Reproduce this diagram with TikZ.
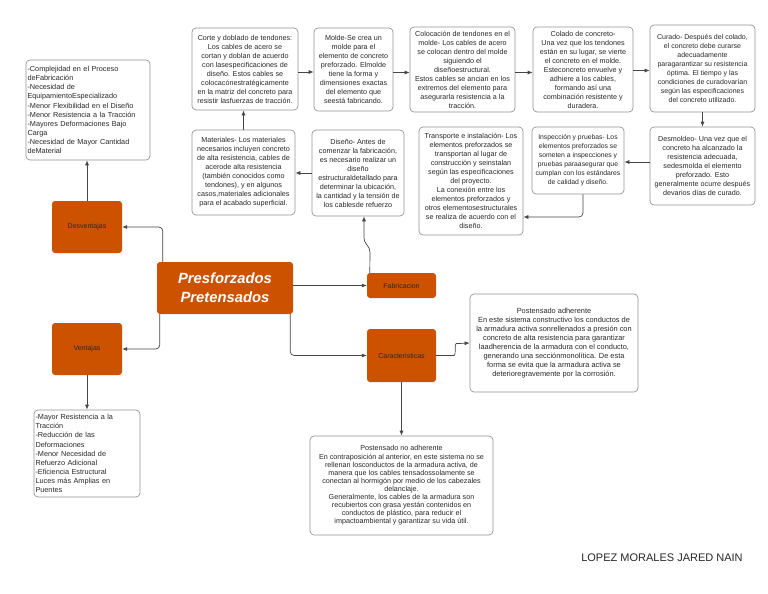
\documentclass[tikz,border=0pt]{standalone}
\usepackage{fontspec}
\setmainfont{Liberation Sans}
\usetikzlibrary{arrows.meta}
\definecolor{orng}{RGB}{204,82,0}
\definecolor{txt}{RGB}{40,40,40}
\definecolor{bord}{RGB}{150,150,150}
\definecolor{lin}{RGB}{70,70,70}
\begin{document}
\begin{tikzpicture}[x=1pt,y=-1pt,
 box/.style={draw=bord, line width=0.7pt, rounded corners=4pt, fill=white, align=center, text=txt, inner sep=0pt, font=\fontsize{7.2}{9}\selectfont},
 obox/.style={fill=orng, rounded corners=3pt, text=txt, font=\fontsize{7}{8}\selectfont, inner sep=0pt},
 conn/.style={draw=lin, line width=0.7pt, rounded corners=4pt, -{Latex[length=5pt,width=4pt]}},
]
\fill[white] (0,0) rectangle (768,594);
\useasboundingbox (0,0) rectangle (768,594);

% orange nodes
\node[obox, minimum width=136pt, minimum height=52pt, text=white, align=center, font=\fontsize{14.8}{19}\selectfont\bfseries\itshape] (central) at (225,288) {Presforzados\\Pretensados};
\node[obox, minimum width=70pt, minimum height=52pt] (desv) at (87,227) {Desventajas};
\node[obox, minimum width=70pt, minimum height=52pt] (vent) at (87,349) {Ventajas};
\node[obox, minimum width=69pt, minimum height=25pt] (fab) at (401.5,285.5) {Fabricacion};
\node[obox, minimum width=69pt, minimum height=53pt] (car) at (401.5,355.5) {Caracteristicas};

% lists
\node[box, align=left, text width=121pt, minimum height=100pt, inner sep=1.5pt, font=\fontsize{7.3}{9.1}\selectfont] (desvL) at (88,110) {-Complejidad en el Proceso\\deFabricación\\-Necesidad de\\EquipamientoEspecializado\\-Menor Flexibilidad en el Diseño\\-Menor Resistencia a la Tracción\\-Mayores Deformaciones Bajo\\Carga\\-Necesidad de Mayor Cantidad\\deMaterial};
\node[box, align=left, text width=103pt, minimum height=87pt, inner sep=1.5pt, font=\fontsize{7.3}{9.1}\selectfont] (ventL) at (87,453.5) {-Mayor Resistencia a la\\Tracción\\-Reducción de las\\Deformaciones\\-Menor Necesidad de\\Refuerzo Adicional\\-Eficiencia Estructural\\Luces más Amplias en\\Puentes};

% process boxes
\node[box, minimum width=106pt, minimum height=82pt] (corte) at (245,69) {Corte y doblado de tendones:\\Los cables de acero se\\cortan y doblan de acuerdo\\con lasespecificaciones de\\diseño. Estos cables se\\colocacónestratégicamente\\en la matriz del concreto para\\resistir lasfuerzas de tracción.};
\node[box, minimum width=79pt, minimum height=83pt] (molde) at (353.5,69.5) {Molde-Se crea un\\molde para el\\elemento de concreto\\preforzado. Elmolde\\tiene la forma y\\dimensiones exactas\\del elemento que\\seestá fabricando.};
\node[box, minimum width=105pt, minimum height=85pt] (coloc) at (462.5,69.5) {Colocación de tendones en el\\molde- Los cables de acero\\se colocan dentro del molde\\siguiendo el\\diseñoestructural.\\Estos cables se ancian en los\\extremos del elemento para\\asegurarla resistencia a la\\tracción.};
\node[box, minimum width=100pt, minimum height=85pt] (colado) at (583,69.5) {Colado de concreto-\\Una vez que los tendones\\están en su lugar, se vierte\\el concreto en el molde.\\Esteconcreto envuelve y\\adhiere a los cables,\\formando así una\\combinación resistente y\\duradera.};
\node[box, minimum width=105pt, minimum height=87pt, font=\fontsize{7}{9}\selectfont] (curado) at (702.5,68.5) {Curado- Después del colado,\\el concreto debe curarse\\adecuadamente\\paragarantizar su resistencia\\óptima. El tiempo y las\\condiciones de curadovarían\\según las especificaciones\\del concreto utilizado.};
\node[box, minimum width=105pt, minimum height=78pt] (desmol) at (702.5,166) {Desmoldeo- Una vez que el\\concreto ha alcanzado la\\resistencia adecuada,\\sedesmolda el elemento\\preforzado. Esto\\generalmente ocurre después\\devarios días de curado.};
\node[box, minimum width=92pt, minimum height=67pt, font=\fontsize{6.8}{9}\selectfont] (insp) at (578,160.5) {Inspección y pruebas- Los\\elementos preforzados se\\someten a inspecciones y\\pruebas paraasegurar que\\cumplan con los estándares\\de calidad y diseño.};
\node[box, minimum width=104pt, minimum height=108pt] (transp) at (471,181) {Transporte e instalación- Los\\elementos preforzados se\\transportan al lugar de\\construcción y seinstalan\\según las especificaciones\\del proyecto.\\La conexión entre los\\elementos preforzados y\\otros elementosestructurales\\se realiza de acuerdo con el\\diseño.};
\node[box, minimum width=103pt, minimum height=85pt] (mater) at (243.5,172.5) {Materiales- Los materiales\\necesarios incluyen concreto\\de alta resistencia, cables de\\acerode alta resistencia\\(también conocidos como\\tendones), y en algunos\\casos,materiales adicionales\\para el acabado superficial.};
\node[box, minimum width=92pt, minimum height=86pt] (diseno) at (358,173) {Diseño- Antes de\\comenzar la fabricación,\\es necesario realizar un\\diseño\\estructuraldetallado para\\determinar la ubicación,\\la cantidad y la tensión de\\los cablesde refuerzo};

% characteristics boxes
\node[box, minimum width=168pt, minimum height=98pt, font=\fontsize{7.4}{8.9}\selectfont] (adh) at (554,343) {Postensado adherente\\En este sistema constructivo los conductos de\\la armadura activa sonrellenados a presión con\\concreto de alta resistencia para garantizar\\laadherencia de la armadura con el conducto,\\generando una secciónmonolítica. De esta\\forma se evita que la armadura activa se\\deterioregravemente por la corrosión.};
\node[box, minimum width=183pt, minimum height=99pt, font=\fontsize{7.2}{8.1}\selectfont] (noadh) at (401.5,485.5) {Postensado no adherente\\En contraposición al anterior, en este sistema no se\\rellenan losconductos de la armadura activa, de\\manera que los cables tensadossolamente se\\conectan al hormigón por medio de los cabezales\\delanclaje.\\Generalmente, los cables de la armadura son\\recubiertos con grasa yestán contenidos en\\conductos de plástico, para reducir el\\impactoambiental y garantizar su vida útil.};

% author
\node[text=txt, font=\fontsize{11}{13}\selectfont, inner sep=0pt] (author) at (662,558) {LOPEZ MORALES JARED NAIN};

% connectors
\draw[conn] (desv.north) -- (desv.north |- desvL.south);
\draw[conn] (vent.south) -- (vent.south |- ventL.north);
\draw[conn] ([xshift=6pt]central.north west) |- (desv.east);
\draw[conn] ([xshift=3pt]central.south west) |- (vent.east);
\draw[conn] (central.east |- fab.west) -- (fab.west);
\draw[conn] ([xshift=-3pt]central.south east) |- (car.west);
\coordinate (j1) at (370,248);
\coordinate (j2) at (364,242);
\draw[conn] ([xshift=3pt]fab.north west) -- (j1) -- (j2) -- (j2 |- diseno.south);
\draw[conn] (diseno.west) -- (diseno.west -| mater.east);
\draw[conn] (mater.north) -- (mater.north |- corte.south);
\draw[conn] ([yshift=-3pt]corte.east) -- ([yshift=-3pt]corte.east -| molde.west);
\draw[conn] ([yshift=-3pt]molde.east) -- ([yshift=-3pt]molde.east -| coloc.west);
\draw[conn] ([yshift=-3pt]coloc.east) -- ([yshift=-3pt]coloc.east -| colado.west);
\draw[conn] ([yshift=-1pt]colado.east) -- ([yshift=-1pt]colado.east -| curado.west);
\draw[conn] (curado.south) -- (desmol.north);
\draw[conn] ([yshift=4pt]desmol.west) -- ([yshift=4pt]desmol.west -| insp.east);
\draw[conn] ([xshift=5pt]insp.south) |- ([yshift=-36pt]transp.east);
\draw[conn] (car.east) -- ++(14pt,0pt) to[out=0,in=180] ++(10pt,12pt) -- (adh.west);
\draw[conn] (car.south) -- (car.south |- noadh.north);
\end{tikzpicture}
\end{document}
